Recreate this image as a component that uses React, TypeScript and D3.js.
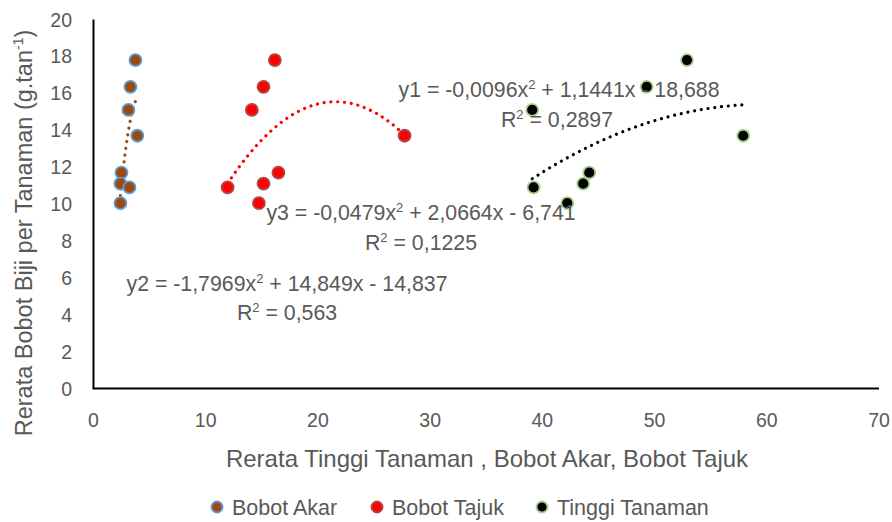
import { useEffect } from "react";
import * as d3 from "d3";

// observed yields (shared by all three series)
const yields = [17.8, 16.35, 15.1, 13.7, 11.7, 11.1, 10.9, 10.05];
const bobotAkar = [3.74, 3.29, 3.11, 3.91, 2.49, 2.4, 3.2, 2.4];
const bobotTajuk = [16.16, 15.15, 14.11, 27.72, 16.48, 15.15, 11.95, 14.74];
const tinggiTanaman = [52.89, 49.3, 39.1, 57.9, 44.18, 43.64, 39.22, 42.22];

// trendline coefficients [a, b, c] for a*x^2 + b*x + c
const coefTinggi = [-0.0096, 1.1441, -18.688];
const coefTajuk = [-0.0479, 2.0664, -6.741];
const coefAkar = [-1.7969, 14.849, -14.837];

const xTicks = [0, 10, 20, 30, 40, 50, 60, 70];
const yTicks = [0, 2, 4, 6, 8, 10, 12, 14, 16, 18, 20];

const FONT = "'Liberation Sans', Arial, sans-serif";
const GREY = "#595959";

const series = [
  { name: "Bobot Akar", xs: bobotAkar, coef: coefAkar, fill: "#9E480E", stroke: "#5B9BD5", line: "#9E480E" },
  { name: "Bobot Tajuk", xs: bobotTajuk, coef: coefTajuk, fill: "#FF0000", stroke: "#B04848", line: "#FF0000" },
  { name: "Tinggi Tanaman", xs: tinggiTanaman, coef: coefTinggi, fill: "#000000", stroke: "#A9D18E", line: "#000000" },
];

function Eq({ x, y, pre, post }: { x: number; y: number; pre: string; post: string }) {
  return (
    <text x={x} y={y}>
      {pre}
      <tspan dy={-8} fontSize={13}>2</tspan>
      <tspan dy={8}>{post}</tspan>
    </text>
  );
}

function App() {
  useEffect(() => {
    document.body.style.margin = "0";
  }, []);

  const x = d3.scaleLinear().domain([0, 70]).range([93.5, 879]);
  const y = d3.scaleLinear().domain([0, 20]).range([388.5, 19.5]);

  const trend = (xs: number[], c: number[]) => {
    const [lo, hi] = d3.extent(xs) as [number, number];
    const pts = d3.range(0, 61).map((i) => {
      const xv = lo + ((hi - lo) * i) / 60;
      return [xv, c[0] * xv * xv + c[1] * xv + c[2]] as [number, number];
    });
    return d3
      .line<[number, number]>()
      .x((d) => x(d[0]))
      .y((d) => y(d[1]))(pts);
  };

  return (
    <svg width={892} height={522} style={{ display: "block", background: "#fff" }} fontFamily={FONT}>
      {/* axes */}
      <line x1={x(0)} x2={x(0)} y1={y(20)} y2={y(0)} stroke="#000" strokeWidth={2} />
      <line x1={x(0) - 1} x2={x(70)} y1={y(0)} y2={y(0)} stroke="#000" strokeWidth={2} />

      {yTicks.map((t) => (
        <text key={"y" + t} x={72} y={y(t)} dy="0.36em" textAnchor="end" fontSize={19.5} fill={GREY}>
          {t}
        </text>
      ))}
      {xTicks.map((t) => (
        <text key={"x" + t} x={x(t)} y={427} textAnchor="middle" fontSize={19.5} fill={GREY}>
          {t}
        </text>
      ))}

      <text
        transform={`translate(32,233) rotate(-90)`}
        textAnchor="middle"
        fontSize={23.5}
        fill={GREY}
      >
        Rerata Bobot Biji per Tanaman (g.tan
        <tspan dy={-9} fontSize={14}>-1</tspan>
        <tspan dy={9}>)</tspan>
      </text>
      <text x={487} y={467} textAnchor="middle" fontSize={24} fill={GREY}>
        Rerata Tinggi Tanaman , Bobot Akar, Bobot Tajuk
      </text>

      {/* trendlines */}
      {series.map((s) => (
        <path
          key={"t" + s.name}
          d={trend(s.xs, s.coef) || ""}
          fill="none"
          stroke={s.line}
          strokeWidth={3.2}
          strokeLinecap="round"
          strokeDasharray="0.01 6.8"
        />
      ))}

      {/* points */}
      {series.map((s) =>
        s.xs.map((xv, i) => (
          <circle
            key={s.name + i}
            cx={x(xv)}
            cy={y(yields[i])}
            r={6}
            fill={s.fill}
            stroke={s.stroke}
            strokeWidth={1.8}
          />
        ))
      )}

      {/* equation labels */}
      <g fontSize={21.3} fill={GREY} textAnchor="middle">
        <Eq x={559} y={97} pre="y1 = -0,0096x" post=" + 1,1441x - 18,688" />
        <Eq x={557} y={127} pre="R" post=" = 0,2897" />
        <Eq x={421} y={220} pre="y3 = -0,0479x" post=" + 2,0664x - 6,741" />
        <Eq x={421} y={250} pre="R" post=" = 0,1225" />
        <Eq x={287} y={291} pre="y2 = -1,7969x" post=" + 14,849x - 14,837" />
        <Eq x={287} y={320} pre="R" post=" = 0,563" />
      </g>

      {/* legend */}
      {series.map((s, i) => {
        const lx = [217, 377, 542][i];
        return (
          <g key={"l" + s.name}>
            <circle cx={lx} cy={507} r={5.5} fill={s.fill} stroke={s.stroke} strokeWidth={1.8} />
            <text x={lx + 15} y={507} dy="0.36em" fontSize={21.5} fill={GREY}>
              {s.name}
            </text>
          </g>
        );
      })}
    </svg>
  );
}

export default App;
